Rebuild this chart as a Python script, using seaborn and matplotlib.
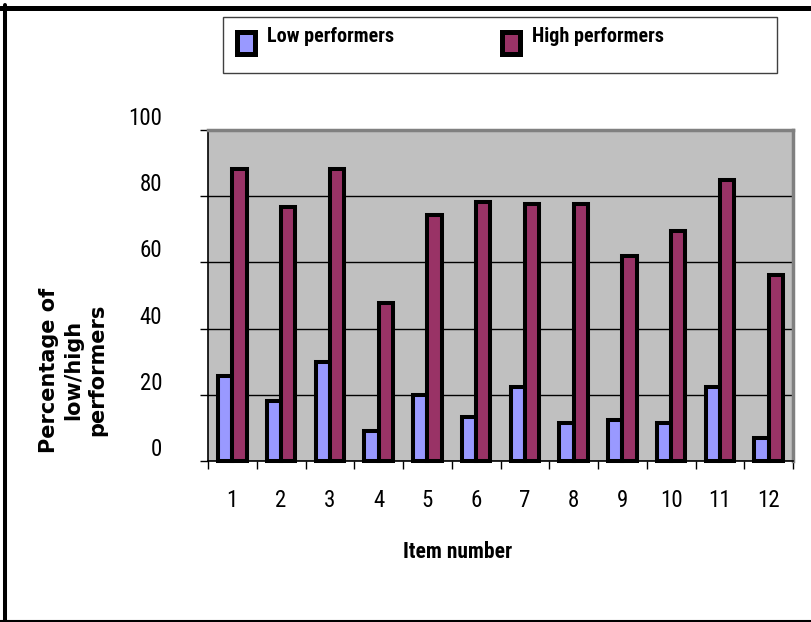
import matplotlib
matplotlib.use("Agg")
import numpy as np
import pandas as pd
import matplotlib.pyplot as plt
import seaborn as sns
from matplotlib.lines import Line2D
from matplotlib.patches import Patch, Rectangle
from matplotlib.ticker import FixedLocator

# Percentage of low / high performers answering each item correctly
items = ["1", "2", "3", "4", "5", "6", "7", "8", "9", "10", "11", "12"]
low_performers = [25.6, 18.2, 29.8, 9.1, 19.9, 13.3, 22.3, 11.6, 12.5, 11.6, 22.3, 6.8]
high_performers = [88.2, 76.6, 88.2, 47.8, 74.2, 78.3, 77.6, 77.6, 61.9, 69.5, 85.0, 56.2]
series_names = ["Low performers", "High performers"]
series_colors = ["#9999FF", "#993366"]
y_ticks = [0, 20, 40, 60, 80, 100]

df = pd.DataFrame({
    "Item number": items * 2,
    "Group": [series_names[0]] * len(items) + [series_names[1]] * len(items),
    "Percentage": low_performers + high_performers,
})

sns.set_theme(style="white")
NARROW = ["Roboto Condensed", "PT Sans Narrow", "DejaVu Sans"]
plt.rcParams["font.family"] = NARROW
plt.rcParams["font.stretch"] = "condensed"
for key in ("text.color", "axes.labelcolor", "xtick.color", "ytick.color"):
    plt.rcParams[key] = "black"

W, H = 811, 622
fig = plt.figure(figsize=(W / 100, H / 100), dpi=100)
fig.patch.set_facecolor("white")


def px_box(left, top, right, bottom):
    return [left / W, 1 - bottom / H, (right - left) / W, (bottom - top) / H]


ax = fig.add_axes(px_box(208, 130, 793, 461))
ax.set_facecolor("#C0C0C0")

sns.barplot(
    data=df, x="Item number", y="Percentage", hue="Group",
    order=items, hue_order=series_names,
    palette=dict(zip(series_names, series_colors)),
    saturation=1, width=0.58, edgecolor="black", linewidth=2.9,
    legend=False, ax=ax,
)
for bar in ax.patches:
    bar.set_clip_on(False)

ax.set_xlim(-0.5, len(items) - 0.5)
ax.set_ylim(0, 100)
ax.set_yticks(y_ticks)
ax.set_yticklabels([str(v) for v in y_ticks])
ax.yaxis.grid(True, color="black", linewidth=1)
ax.xaxis.grid(False)
ax.set_axisbelow(True)

for side in ("left", "bottom"):
    ax.spines[side].set_color("black")
    ax.spines[side].set_linewidth(1.2)
for side in ("top", "right"):
    ax.spines[side].set_color("#808080")
    ax.spines[side].set_linewidth(2.5)

# category boundary ticks below the x axis
ax.xaxis.set_minor_locator(FixedLocator(np.arange(-0.5, len(items), 1.0)))
ax.tick_params(axis="x", which="major", bottom=True, length=0, pad=20, labelsize=16.5)
ax.tick_params(axis="x", which="minor", bottom=True, direction="out",
               length=5.5, width=1, color="black")
ax.tick_params(axis="y", which="major", left=True, direction="out",
               length=6, width=1, color="black", pad=27, labelsize=16.5)
for lab in ax.get_yticklabels():
    lab.set_verticalalignment("bottom")

ax.set_xlabel("Item number", fontsize=15.5, fontweight="bold")
ax.xaxis.set_label_coords((457.5 - 208) / 585, (461 - 541) / 331)

ax.set_ylabel("Percentage of\nlow/high\nperformers", fontsize=15,
              fontweight="bold", family=["DejaVu Sans"], fontstretch="normal",
              linespacing=1.25)
ax.yaxis.label.set_verticalalignment("center")
ax.yaxis.set_label_coords((73 - 208) / 585, (461 - 370) / 331)

# legend
handles = [Patch(facecolor=c, edgecolor="black", linewidth=3.6, label=n)
           for n, c in zip(series_names, series_colors)]
leg = fig.legend(
    handles=handles, loc="upper left",
    bbox_to_anchor=(237 / W, 1 - 24 / H), bbox_transform=fig.transFigure,
    ncol=2, frameon=False,
    prop=dict(family=NARROW, weight="bold", size=14.5, stretch="condensed"),
    handlelength=0.9, handleheight=1.3, handletextpad=0.6,
    columnspacing=5.35, borderpad=0, borderaxespad=0,
)
# the swatches sit a little below the text line
for swatch in leg.get_patches():
    swatch.set_y(swatch.get_y() - 6)
fig.add_artist(Rectangle((223 / W, 1 - 73 / H), (777 - 223) / W, (73 - 17) / H,
                         transform=fig.transFigure, fill=False,
                         edgecolor="#404040", linewidth=1))

# outer frame
fig.add_artist(Line2D([0, 1], [1 - 7.5 / H] * 2, transform=fig.transFigure,
                      color="black", linewidth=3.6))
fig.add_artist(Line2D([4.7 / W] * 2, [0, 1 - 5 / H], transform=fig.transFigure,
                      color="black", linewidth=2.9))
fig.add_artist(Line2D([0, 1], [1 - 621 / H] * 2, transform=fig.transFigure,
                      color="black", linewidth=1.5))

fig.savefig("out.png", dpi=100)
